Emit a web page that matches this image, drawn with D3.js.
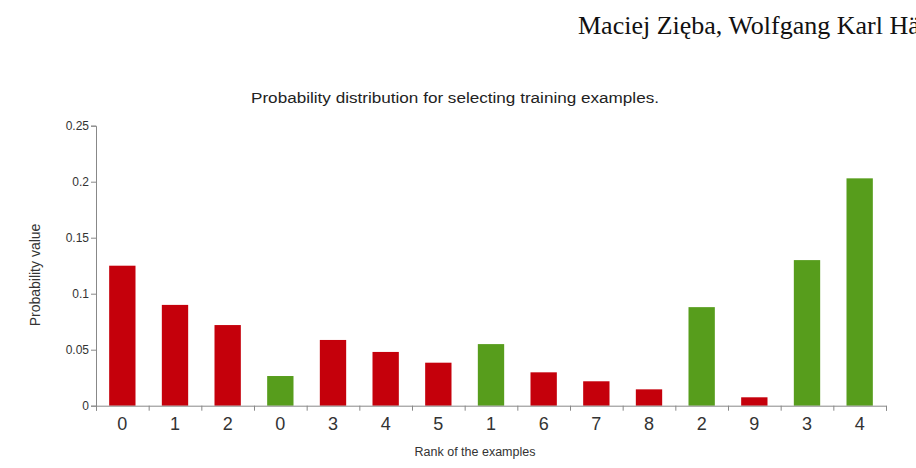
<!DOCTYPE html>
<html>
<head>
<meta charset="utf-8">
<script src="https://cdn.jsdelivr.net/npm/d3@7"></script>
<style>
  body { margin: 0; background: #fff; }
  svg { display: block; }
</style>
</head>
<body>
<div id="chart"></div>
<script>
// rank labels shown under each bar, in display order
const rankLabels = ["0", "1", "2", "0", "3", "4", "5", "1", "6", "7", "8", "2", "9", "3", "4"];
// probability of each bar
const probValues = [0.125, 0.09, 0.072, 0.0265, 0.0587, 0.048, 0.0384, 0.055, 0.0298, 0.0218, 0.0146, 0.088, 0.0075, 0.130, 0.203];
// which group each bar belongs to
const barGroup = ["r", "r", "r", "g", "r", "r", "r", "g", "r", "r", "r", "g", "r", "g", "g"];
const yTicks = [0, 0.05, 0.1, 0.15, 0.2, 0.25];

const width = 916, height = 468;
const margin = {top: 125.7, right: 30, bottom: 62.3, left: 96};
const innerW = width - margin.left - margin.right;
const innerH = height - margin.top - margin.bottom;
const colors = {r: "#c5000b", g: "#579d1c"};
const sans = "'Liberation Sans', Arial, sans-serif";

const svg = d3.select("#chart").append("svg")
    .attr("width", width)
    .attr("height", height);

// running header from the paper page (clipped by the right edge)
svg.append("text")
    .attr("x", 578)
    .attr("y", 34)
    .attr("font-family", "'Liberation Serif', 'Times New Roman', serif")
    .attr("font-size", 26)
    .attr("fill", "#111")
    .text("Maciej Zięba, Wolfgang Karl Härdle");

svg.append("text")
    .attr("x", 251)
    .attr("y", 103)
    .attr("font-family", sans)
    .attr("font-size", 15.5)
    .attr("textLength", 408)
    .attr("lengthAdjust", "spacingAndGlyphs")
    .attr("fill", "#222")
    .text("Probability distribution for selecting training examples.");

const g = svg.append("g")
    .attr("transform", "translate(" + margin.left + "," + margin.top + ")");

const idx = d3.range(rankLabels.length);
const xScale = d3.scaleBand().domain(idx).range([0, innerW]).paddingInner(0.5).paddingOuter(0.25);
const xEdges = d3.scaleLinear().domain([0, idx.length]).range([0, innerW]);
const yScale = d3.scaleLinear().domain([0, 0.25]).range([innerH, 0]);

// bars
g.selectAll(".bar")
    .data(idx)
    .join("rect")
    .attr("class", "bar")
    .attr("x", i => xScale(i))
    .attr("y", i => yScale(probValues[i]))
    .attr("width", xScale.bandwidth())
    .attr("height", i => innerH - yScale(probValues[i]))
    .attr("fill", i => colors[barGroup[i]]);

// y axis
const yAxisG = g.append("g")
    .call(d3.axisLeft(yScale).tickValues(yTicks).tickSize(5).tickFormat(d => String(+d.toFixed(2))));
yAxisG.select(".domain").attr("stroke", "#888");
yAxisG.selectAll(".tick line").attr("stroke", "#888");
yAxisG.selectAll(".tick text")
    .attr("font-family", sans)
    .attr("font-size", 12)
    .attr("fill", "#333")
    .attr("x", -7);

// x axis: tick marks at band edges
const xAxisG = g.append("g")
    .attr("transform", "translate(0," + innerH + ")")
    .call(d3.axisBottom(xEdges).tickValues(d3.range(idx.length + 1)).tickSize(5).tickFormat(""));
xAxisG.select(".domain").attr("stroke", "#888");
xAxisG.selectAll(".tick line").attr("stroke", "#888");

// x labels centred on bars
g.append("g")
    .selectAll("text")
    .data(idx)
    .join("text")
    .attr("x", i => xScale(i) + xScale.bandwidth() / 2)
    .attr("y", innerH + 24.5)
    .attr("text-anchor", "middle")
    .attr("font-family", sans)
    .attr("font-size", 18)
    .attr("fill", "#333")
    .text(i => rankLabels[i]);

// axis titles
svg.append("text")
    .attr("x", 475)
    .attr("y", 456)
    .attr("text-anchor", "middle")
    .attr("font-family", sans)
    .attr("font-size", 12.5)
    .attr("fill", "#333")
    .text("Rank of the examples");

svg.append("text")
    .attr("transform", "translate(40,275) rotate(-90)")
    .attr("text-anchor", "middle")
    .attr("font-family", sans)
    .attr("font-size", 14)
    .attr("fill", "#333")
    .text("Probability value");
</script>
</body>
</html>
